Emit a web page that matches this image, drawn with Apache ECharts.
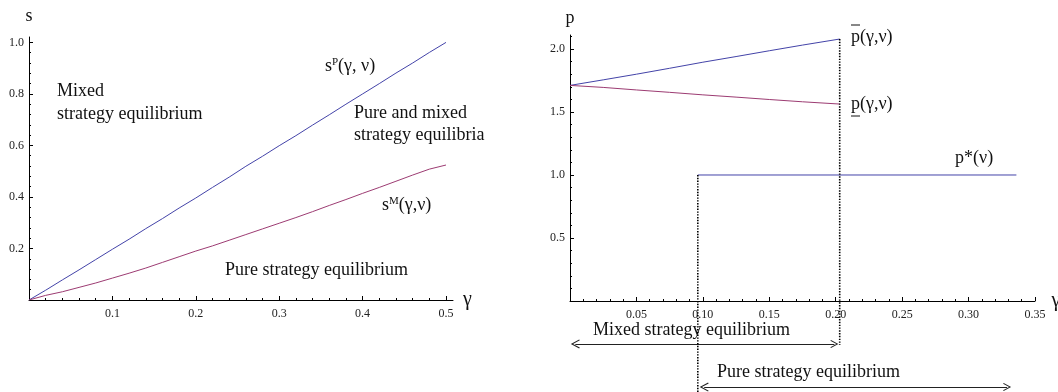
<!DOCTYPE html>
<html>
<head>
<meta charset="utf-8">
<script src="https://cdn.jsdelivr.net/npm/echarts@6.0.0/dist/echarts.min.js"></script>
<style>
html, body { margin: 0; padding: 0; background: #fff; }
#main { width: 1058px; height: 392px; }
</style>
</head>
<body>
<div id="main"></div>
<script>
"use strict";

// 左图：s^P(γ,ν) 与 s^M(γ,ν)
let gammaLeft = [0, 0.02, 0.04, 0.06, 0.08, 0.10, 0.12, 0.14, 0.16, 0.18, 0.20, 0.22, 0.24,
    0.26, 0.28, 0.30, 0.32, 0.34, 0.36, 0.38, 0.40, 0.42, 0.44, 0.46, 0.48, 0.50];
let sP = [0, 0.038, 0.078, 0.117, 0.157, 0.197, 0.236, 0.277, 0.316, 0.357, 0.396, 0.437, 0.477,
    0.519, 0.558, 0.599, 0.638, 0.679, 0.719, 0.760, 0.800, 0.840, 0.881, 0.920, 0.961, 1.0];
let sM = [0, 0.018, 0.032, 0.049, 0.066, 0.085, 0.104, 0.124, 0.146, 0.168, 0.190, 0.210, 0.232,
    0.254, 0.276, 0.298, 0.320, 0.343, 0.367, 0.390, 0.414, 0.437, 0.461, 0.485, 0.508, 0.524];

// 右图：p 上界、下界与 p*(ν)
let gammaRight = [0, 0.025, 0.05, 0.075, 0.10, 0.125, 0.15, 0.175, 0.203];
let pUpper = [1.711, 1.755, 1.800, 1.847, 1.895, 1.940, 1.986, 2.031, 2.079];
let pLower = [1.711, 1.695, 1.675, 1.656, 1.636, 1.618, 1.599, 1.581, 1.563];
let pStarGamma = [0.0962, 0.336];
let pStar = [1, 1];

// 虚线分界与箭头区间
let gammaPureFrom = 0.0962;
let gammaMixedTo = 0.203;
let mixedArrow = [0.004, 0.199];
let pureArrow = [0.101, 0.329];

// 刻度
let leftXTicks = [0.1, 0.2, 0.3, 0.4, 0.5];
let leftYTicks = [0.2, 0.4, 0.6, 0.8, 1.0];
let rightXTicks = [0.05, 0.10, 0.15, 0.20, 0.25, 0.30, 0.35];
let rightYTicks = [0.5, 1.0, 1.5, 2.0];

const SERIF = '"Liberation Serif", "Times New Roman", serif';
const BLUE = '#4343a8';
const RED = '#9c3b72';
const INK = '#111';

// 小刻度：主刻度之间均分
function minorTicks(step, max, majors) {
    let out = [];
    for (let i = 1; i * step <= max + 1e-9; i++) {
        let v = +(i * step).toFixed(4);
        if (!majors.some(m => Math.abs(m - v) < 1e-9)) out.push(v);
    }
    return out;
}

let myChart = echarts.init(document.getElementById('main'), null, {renderer: 'canvas'});

function zip(xs, ys) {
    return xs.map((x, i) => [x, ys[i]]);
}

function majorAxis(gridIndex, min, max, ticks, digits, extra) {
    return Object.assign({
        type: 'value',
        gridIndex: gridIndex,
        min: min,
        max: max,
        splitLine: {show: false},
        axisLine: {show: true, onZero: false, lineStyle: {color: '#000', width: 1}},
        axisTick: {show: true, inside: true, length: 4, customValues: ticks,
            lineStyle: {color: '#000', width: 1}},
        axisLabel: {
            show: true,
            customValues: ticks,
            color: '#222',
            fontFamily: SERIF,
            fontSize: 12,
            formatter: function (v) { return (+v).toFixed(digits); },
        },
        nameTextStyle: {fontFamily: SERIF, fontSize: 18, color: INK},
    }, extra);
}

function minorAxis(gridIndex, min, max, ticks, position) {
    return {
        type: 'value',
        gridIndex: gridIndex,
        position: position,
        min: min,
        max: max,
        splitLine: {show: false},
        axisLine: {show: false},
        axisLabel: {show: false},
        axisTick: {show: true, inside: true, length: 2, customValues: ticks,
            lineStyle: {color: '#000', width: 1}},
    };
}

function txt(x, y, text, size) {
    return {
        type: 'text', x: x, y: y, silent: true,
        style: {text: text, font: (size || 18) + 'px ' + SERIF, fill: INK, verticalAlign: 'middle'},
    };
}

function supTxt(x, y, base, sup, rest) {
    return {
        type: 'text', x: x, y: y, silent: true,
        style: {
            text: '{n|' + base + '}{s|' + sup + '}{n|' + rest + '}',
            verticalAlign: 'middle',
            rich: {
                n: {fontFamily: SERIF, fontSize: 18, fill: INK, color: INK, verticalAlign: 'bottom'},
                s: {fontFamily: SERIF, fontSize: 11, fill: INK, color: INK, verticalAlign: 'top'},
            },
        },
    };
}

function hline(x1, x2, y) {
    return {type: 'line', silent: true, shape: {x1: x1, y1: y, x2: x2, y2: y},
        style: {stroke: INK, lineWidth: 1}};
}

// 开口箭头
let chevron = 'path://M5,0 L10,9 L9,9.7 L5,2.4 L1,9.7 L0,9 Z';

let option = {
    animation: false,
    backgroundColor: '#fff',
    grid: [
        {left: 29, top: 37, width: 424, height: 263, containLabel: false, outerBoundsMode: 'none'},
        {left: 570, top: 35, width: 465, height: 266, containLabel: false, outerBoundsMode: 'none'},
    ],
    xAxis: [
        majorAxis(0, 0, 0.5084, leftXTicks, 1, {position: 'bottom', name: 'γ', nameLocation: 'end',
            nameGap: 10, nameTextStyle: {fontFamily: SERIF, fontSize: 20, color: INK, padding: [8, 0, 0, 0]}}),
        minorAxis(0, 0, 0.5084, minorTicks(0.02, 0.5, leftXTicks), 'bottom'),
        majorAxis(1, 0, 0.35, rightXTicks, 2, {position: 'bottom', name: 'γ', nameLocation: 'end',
            nameGap: 13, nameTextStyle: {fontFamily: SERIF, fontSize: 20, color: INK, padding: [0, 0, 0, 0]}}),
        minorAxis(1, 0, 0.35, minorTicks(0.01, 0.34, rightXTicks), 'bottom'),
    ],
    yAxis: [
        majorAxis(0, 0, 1.021, leftYTicks, 1, {position: 'left', name: 's', nameLocation: 'end',
            nameGap: 12, axisLabel: {customValues: leftYTicks, color: '#222', fontFamily: SERIF,
                fontSize: 12, margin: 5, formatter: v => (+v).toFixed(1)}}),
        minorAxis(0, 0, 1.021, minorTicks(0.04, 1.0, leftYTicks), 'left'),
        majorAxis(1, 0, 2.111, rightYTicks, 1, {position: 'left', name: 'p', nameLocation: 'end',
            nameGap: 8, axisLabel: {customValues: rightYTicks, color: '#222', fontFamily: SERIF,
                fontSize: 12, margin: 5, formatter: v => (+v).toFixed(1)}}),
        minorAxis(1, 0, 2.111, minorTicks(0.1, 2.1, rightYTicks), 'left'),
    ],
    series: [
        {
            name: 'sP', type: 'line', xAxisIndex: 0, yAxisIndex: 0,
            data: zip(gammaLeft, sP), showSymbol: false, symbol: 'none',
            lineStyle: {color: BLUE, width: 1},
        },
        {
            name: 'sM', type: 'line', xAxisIndex: 0, yAxisIndex: 0,
            data: zip(gammaLeft, sM), showSymbol: false, symbol: 'none',
            lineStyle: {color: RED, width: 1},
        },
        {
            name: 'pUpper', type: 'line', xAxisIndex: 2, yAxisIndex: 2,
            data: zip(gammaRight, pUpper), showSymbol: false, symbol: 'none',
            lineStyle: {color: BLUE, width: 1},
        },
        {
            name: 'pLower', type: 'line', xAxisIndex: 2, yAxisIndex: 2,
            data: zip(gammaRight, pLower), showSymbol: false, symbol: 'none',
            lineStyle: {color: RED, width: 1},
        },
        {
            name: 'pStar', type: 'line', xAxisIndex: 2, yAxisIndex: 2,
            data: zip(pStarGamma, pStar), showSymbol: false, symbol: 'none',
            lineStyle: {color: BLUE, width: 1},
        },
        { // γ 上限处的虚线，一直延伸到箭头下方
            name: 'cutMixed', type: 'line', xAxisIndex: 2, yAxisIndex: 2, clip: false,
            data: [[gammaMixedTo, pUpper[pUpper.length - 1]], [gammaMixedTo, -0.35]],
            showSymbol: false, symbol: 'none', z: 5,
            lineStyle: {color: '#000', width: 1.6, type: [1.4, 1.4]},
        },
        {
            name: 'cutPure', type: 'line', xAxisIndex: 2, yAxisIndex: 2, clip: false,
            data: [[gammaPureFrom, 1], [gammaPureFrom, -0.73]],
            showSymbol: false, symbol: 'none', z: 5,
            lineStyle: {color: '#000', width: 1.6, type: [1.4, 1.4]},
        },
        { // 区间箭头
            name: 'ranges', type: 'lines', coordinateSystem: 'cartesian2d',
            xAxisIndex: 2, yAxisIndex: 2, clip: false, silent: true,
            symbol: [chevron, chevron], symbolSize: [9, 8],
            lineStyle: {color: '#222', width: 1, opacity: 1},
            data: [
                {coords: [[mixedArrow[0], -0.341], [mixedArrow[1], -0.341]]},
                {coords: [[pureArrow[0], -0.683], [pureArrow[1], -0.683]]},
            ],
        },
    ],
    graphic: [
        // 左图注释
        txt(57, 91, 'Mixed'),
        txt(57, 114, 'strategy equilibrium'),
        supTxt(325, 66, 's', 'P', '(γ, ν)'),
        txt(354, 113, 'Pure and mixed'),
        txt(354, 135, 'strategy equilibria'),
        supTxt(382, 205, 's', 'M', '(γ,ν)'),
        txt(225, 270, 'Pure strategy equilibrium'),
        // 右图注释
        txt(851, 37, 'p(γ,ν)'),
        hline(851, 860, 25),
        txt(851, 104, 'p(γ,ν)'),
        hline(851, 860, 116),
        txt(955, 158, 'p*(ν)'),
        txt(593, 330, 'Mixed strategy equilibrium'),
        txt(717, 372, 'Pure strategy equilibrium'),
    ],
};

myChart.setOption(option);

window.addEventListener('resize', function () {
    myChart.resize();
});
</script>
</body>
</html>
